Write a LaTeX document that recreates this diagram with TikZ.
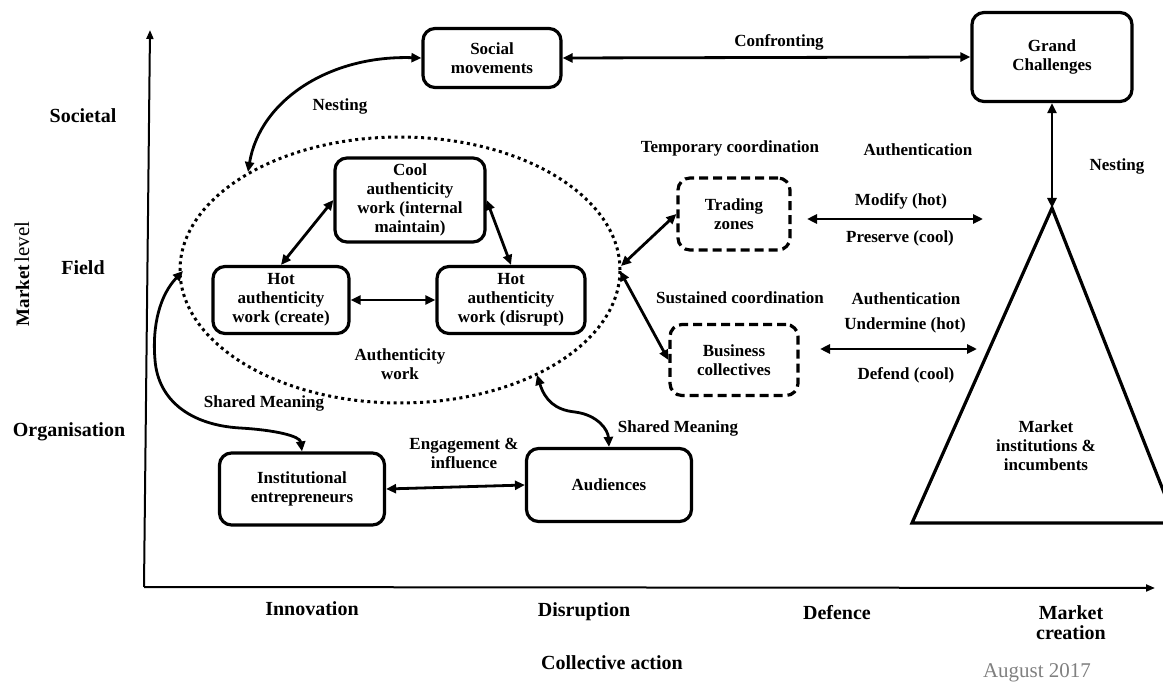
\documentclass[tikz,border=0pt]{standalone}
\usepackage{fontspec}
\setmainfont{Liberation Serif}
\usetikzlibrary{arrows.meta}
\begin{document}
\begin{tikzpicture}[x=1pt,y=-1pt,
  txt/.style={font=\fontsize{17}{19}\selectfont\bfseries, align=center, inner sep=0pt},
  axl/.style={font=\fontsize{20}{21}\selectfont\bfseries, align=center, inner sep=0pt},
  box/.style={draw, line width=3.2pt, rounded corners=12pt, txt},
  dbox/.style={box, dash pattern=on 9pt off 5pt},
  arr/.style={line width=2.8pt, {Triangle[length=10pt,width=9pt]}-{Triangle[length=10pt,width=9pt]}},
  axis/.style={line width=2pt, -{Triangle[length=9pt,width=7pt]}},
  dots/.style={line width=3pt, dash pattern=on 3pt off 3.6pt}
]
\useasboundingbox (0,0) rectangle (1163,682);

% axes
\coordinate (o) at (144,587);
\coordinate (ytop) at (150,30);
\coordinate (xend) at (1155,588);
\draw[axis] (o) -- (ytop);
\draw[axis] (o) -- (xend);

% axis labels
\node[axl] (soc) at (83,116) {Societal};
\node[axl] (fld) at (83,268) {Field};
\node[axl] (org) at (69,432) {Organisation};
\node[rotate=90, inner sep=0pt] (ml) at (22,274) {{\fontsize{19}{20}\selectfont\bfseries Market} {\fontsize{21}{22}\selectfont level}};
\node[axl] (inn) at (312,609) {Innovation};
\node[axl] (dis) at (584,612) {Disruption};
\node[axl] (def) at (837,613) {Defence};
\node[axl, font=\fontsize{20}{20}\selectfont\bfseries] (mc) at (1071,623) {Market\\creation};
\node[axl] (ca) at (612,663) {Collective action};
\node[font=\fontsize{21}{22}\selectfont, text=black!50, inner sep=0pt] (aug) at (1037,673) {August 2017};

% ellipse
\draw[dots] (400,270) ellipse [x radius=220pt, y radius=133pt];
\coordinate (nestpt) at (248,172);
\coordinate (smlpt) at (183,271);
\coordinate (smrpt) at (537,375);
\coordinate (er1) at (621,266);
\coordinate (er2) at (620,271);

% nodes
\node[box, minimum width=138pt, minimum height=59pt] (sm) at (492,58) {Social\\movements};
\node[box, minimum width=160pt, minimum height=89pt] (gc) at (1052,57) {Grand\\Challenges};
\node[box, minimum width=150pt, minimum height=84pt] (cool) at (410,200) {Cool\\authenticity\\work (internal\\maintain)};
\node[box, minimum width=136pt, minimum height=67pt] (hc) at (281,300) {Hot\\authenticity\\work (create)};
\node[box, minimum width=148pt, minimum height=67pt] (hd) at (511,300) {Hot\\authenticity\\work (disrupt)};
\node[dbox, minimum width=112pt, minimum height=72pt] (tz) at (734,214) {Trading\\zones};
\node[dbox, minimum width=128pt, minimum height=71pt] (bc) at (734,360) {Business\\collectives};
\node[box, minimum width=165pt, minimum height=72pt] (ie) at (302,489) {Institutional\\entrepreneurs};
\node[box, minimum width=165pt, minimum height=73pt] (aud) at (609,485) {Audiences};

% triangle
\coordinate (apex) at (1052,208);
\begin{scope}
\clip (0,0) rectangle (1163,682);
\draw[line width=3.2pt] (apex) -- (912,523) -- (1176,523) -- cycle;
\end{scope}
\node[txt] (mi) at (1046,446) {Market\\institutions \&\\incumbents};

% labels
\node[txt] (conf) at (779,42) {Confronting};
\node[txt] (nestl) at (340,106) {Nesting};
\node[txt] (nestr) at (1117,166) {Nesting};
\node[txt] (tc) at (730,148) {Temporary coordination};
\node[txt] (sc) at (740,298) {Sustained coordination};
\node[txt] (auth1) at (918,150) {Authentication};
\node[txt] (auth2) at (906,299) {Authentication};
\node[txt] (mod) at (901,201) {Modify (hot)};
\node[txt] (pres) at (900,238) {Preserve (cool)};
\node[txt] (und) at (905,325) {Undermine (hot)};
\node[txt] (defd) at (906,375) {Defend (cool)};
\node[txt] (aw) at (400,364) {Authenticity\\work};
\node[txt] (sml) at (264,403) {Shared Meaning};
\node[txt] (smr) at (678,428) {Shared Meaning};
\node[txt] (eng) at (464,453) {Engagement \&\\influence};

% free arrow ends
\coordinate (m1) at (807,219);
\coordinate (m2) at (983,219);
\coordinate (u1) at (820,349);
\coordinate (u2) at (977,349);

% connectors
\draw[arr] (sm.east) -- (gc.west);
\draw[arr] (gc.south) -- (apex);
\draw[arr] (sm.west) .. controls (330,55) and (260,100) .. (nestpt);
\draw[arr] (cool.west) -- (hc.north);
\draw[arr] (cool.east) -- (hd.north);
\draw[arr] (hc.east) -- (hd.west);
\draw[arr] (er1) -- (tz.west);
\draw[arr] (er2) -- (bc.west);
\draw[arr] (m1) -- (m2);
\draw[arr] (u1) -- (u2);
\draw[arr] (ie.east) -- (aud.west);
\draw[arr] (smlpt) .. controls (160,295) and (152,325) .. (155,360) .. controls (158,400) and (190,425) .. (240,428) .. controls (275,430) and (300,436) .. (ie.north);
\draw[arr] (smrpt) .. controls (545,400) and (555,410) .. (575,412) .. controls (598,415) and (608,430) .. (aud.north);
\end{tikzpicture}
\end{document}
